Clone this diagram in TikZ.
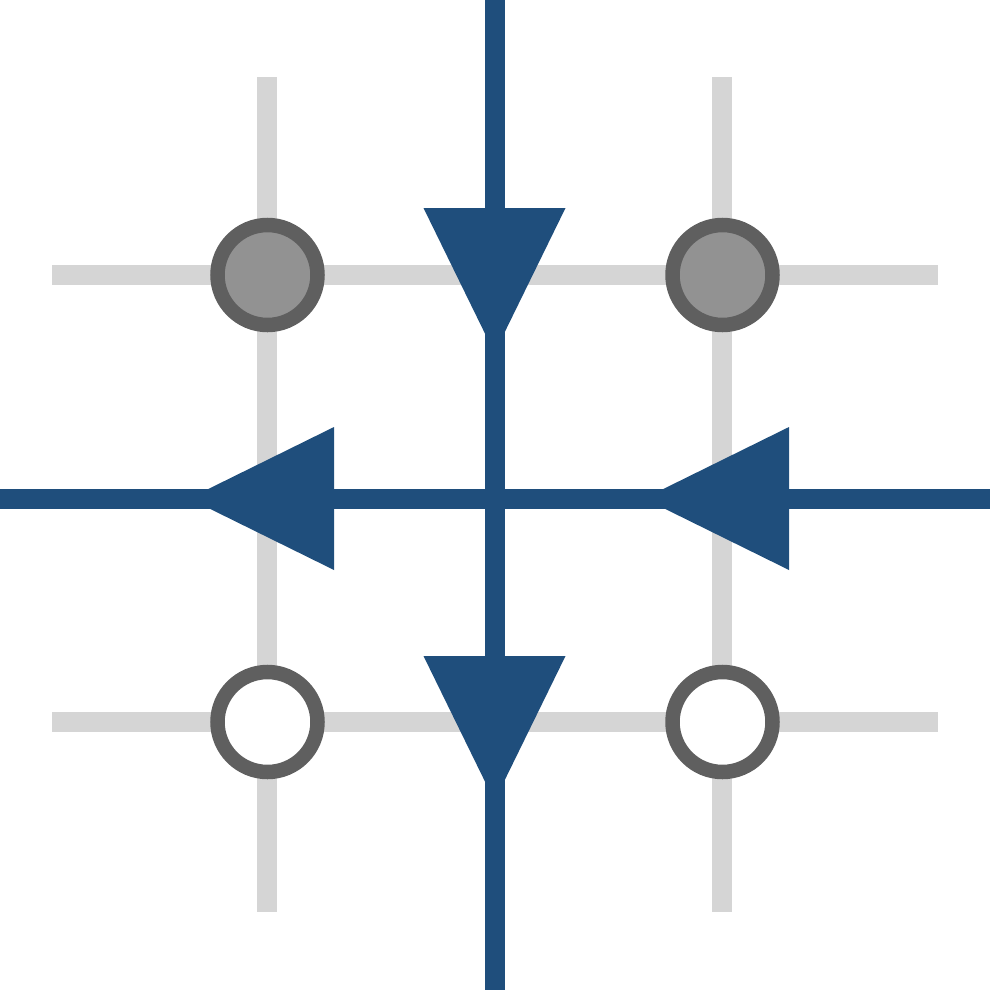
\documentclass[tikz,border=0pt]{standalone}
\definecolor{bluec}{HTML}{1F4E7C}
\definecolor{gridc}{HTML}{D5D5D5}
\definecolor{ringc}{HTML}{5F5F5F}
\definecolor{fillc}{HTML}{929292}
\tikzset{
  gridline/.style={draw=gridc,line width=20pt},
  flowline/.style={draw=bluec,line width=20pt},
  arrowhead/.style={fill=bluec,draw=none},
  site/.style={circle,draw=ringc,line width=14.5pt,minimum size=100pt,inner sep=0pt},
  fullsite/.style={site,fill=fillc},
  emptysite/.style={site,fill=white}
}
\begin{document}
\begin{tikzpicture}[x=1pt,y=-1pt]
\useasboundingbox (0,0) rectangle (990,990);
% grid
\coordinate (g1t) at (267,77); \coordinate (g1b) at (267,912);
\coordinate (g2t) at (722,77); \coordinate (g2b) at (722,912);
\coordinate (h1l) at (52,275); \coordinate (h1r) at (938,275);
\coordinate (h2l) at (52,722); \coordinate (h2r) at (938,722);
\draw[gridline] (g1t) -- (g1b);
\draw[gridline] (g2t) -- (g2b);
\draw[gridline] (h1l) -- (h1r);
\draw[gridline] (h2l) -- (h2r);
% arrowheads
\path[arrowhead] (423.5,208) -- (565.5,208) -- (494.5,353) -- cycle;
\path[arrowhead] (423.5,656) -- (565.5,656) -- (494.5,801) -- cycle;
\path[arrowhead] (334,427) -- (334,570) -- (189,498.5) -- cycle;
\path[arrowhead] (789,427) -- (789,570) -- (644,498.5) -- cycle;
% flow lines
\coordinate (vt) at (494.5,0); \coordinate (vb) at (494.5,990);
\coordinate (hl) at (0,498.5); \coordinate (hr) at (990,498.5);
\draw[flowline] (vt) -- (vb);
\draw[flowline] (hl) -- (hr);
% sites
\node[fullsite] (a) at (267.5,275) {};
\node[fullsite] (b) at (722.5,275) {};
\node[emptysite] (c) at (267.5,722) {};
\node[emptysite] (d) at (722.5,722) {};
\end{tikzpicture}
\end{document}
